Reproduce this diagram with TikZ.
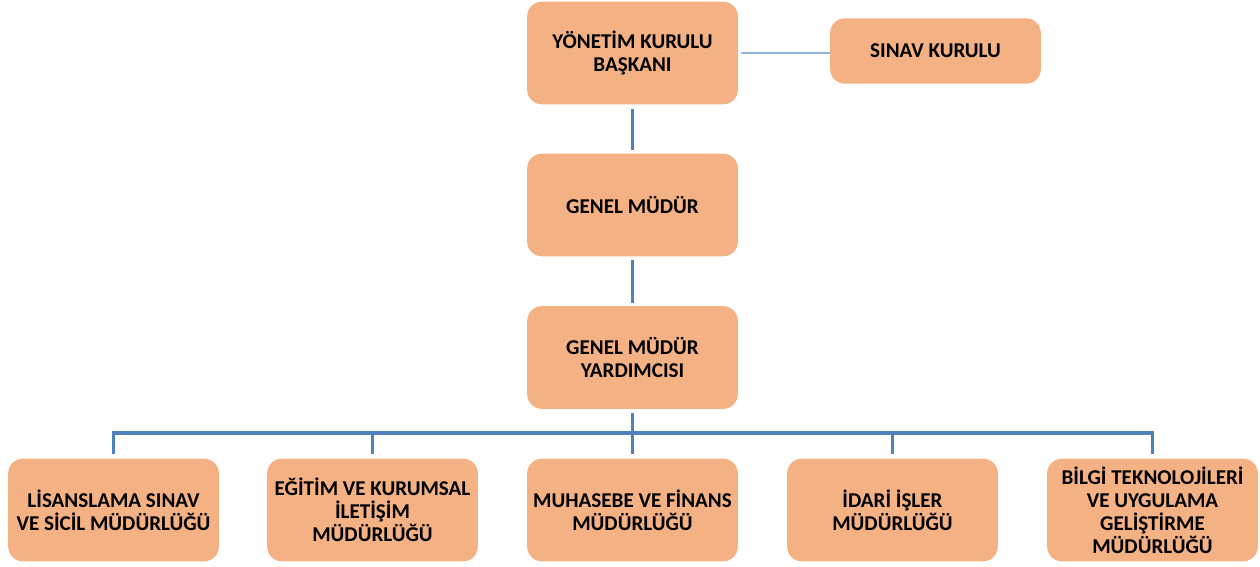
\documentclass[tikz,border=0pt]{standalone}
\usepackage{fontspec}
\setmainfont{Carlito}
\usepackage{tikz}
\usetikzlibrary{positioning, calc}

\definecolor{boxfill}{HTML}{F4B183}
\definecolor{linkblue}{HTML}{4F81BD}
\definecolor{lightblue}{HTML}{8EB4E3}

\tikzset{
  unit/.style={rectangle, rounded corners=11pt, fill=boxfill, draw=none,
    minimum width=158pt, minimum height=77pt, align=center,
    font=\fontsize{15.8}{17.3}\selectfont\bfseries},
  smallunit/.style={unit, minimum height=49pt},
  conn/.style={draw=linkblue, line width=2.5pt},
  sideconn/.style={draw=lightblue, line width=1.8pt}
}

\begin{document}
\begin{tikzpicture}[x=0.75pt,y=-0.75pt]
\useasboundingbox (0,0) rectangle (1260,567);
% top of the chart
\node[unit] (ykb) at (632.5,53) {YÖNETİM KURULU\\BAŞKANI};
\node[smallunit] (sk) at (935.5,51) {SINAV KURULU};
\node[unit] (gm) at (632.5,205) {GENEL MÜDÜR};
\node[unit] (gmy) at (632.5,357.5) {GENEL MÜDÜR\\YARDIMCISI};
% directorates
\node[unit] (lsm) at (113.5,510) {LİSANSLAMA SINAV\\VE SİCİL MÜDÜRLÜĞÜ};
\node[unit] (ekm) at (372.5,510) {EĞİTİM VE KURUMSAL\\İLETİŞİM\\MÜDÜRLÜĞÜ};
\node[unit] (mfm) at (632.5,510) {MUHASEBE VE FİNANS\\MÜDÜRLÜĞÜ};
\node[unit] (iim) at (892.5,510) {İDARİ İŞLER\\MÜDÜRLÜĞÜ};
\node[unit] (btm) at (1152.5,510) {BİLGİ TEKNOLOJİLERİ\\VE UYGULAMA\\GELİŞTİRME\\MÜDÜRLÜĞÜ};
\coordinate (bus) at (632.5,433);

\draw[sideconn, shorten <=2pt] (ykb.east) -- (ykb.east -| sk.west);
\draw[conn, shorten <=3pt, shorten >=2.2pt] (ykb.south) -- (gm.north);
\draw[conn, shorten <=2.2pt, shorten >=2.2pt] (gm.south) -- (gmy.north);
\draw[conn, shorten <=3pt] (gmy.south) -- (bus);
\foreach \d in {lsm,ekm,mfm,iim,btm}
  \draw[conn, shorten <=3pt] (\d.north) |- (bus);
\end{tikzpicture}
\end{document}
